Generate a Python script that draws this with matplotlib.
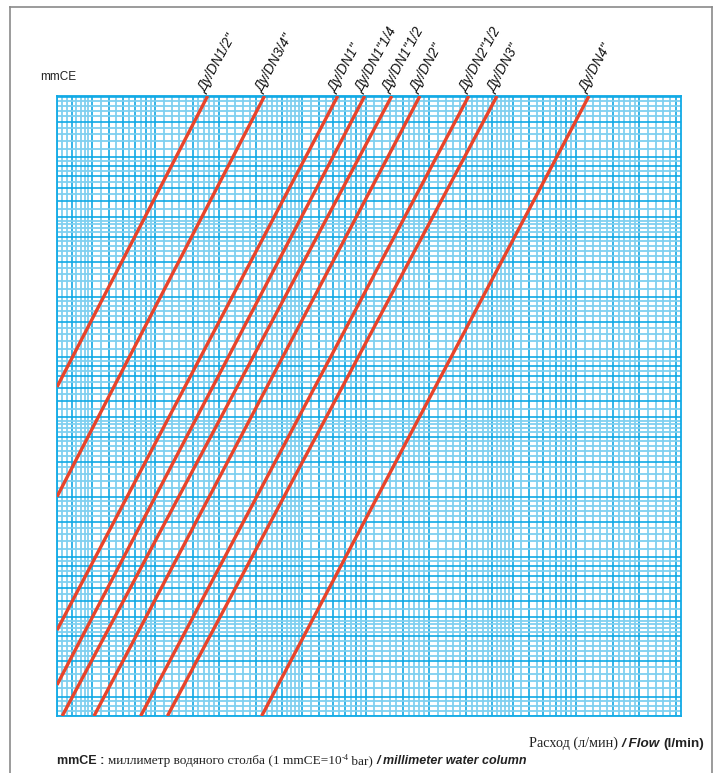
import numpy as np
import matplotlib
matplotlib.use('Agg')
import matplotlib.pyplot as plt
from matplotlib import font_manager
from matplotlib.ticker import LogLocator, NullFormatter
from matplotlib.lines import Line2D

# ----------------------------------------------------------------
# Data (log-log chart)
# ----------------------------------------------------------------
labels = ['Ду/DN1/2"', 'Ду/DN3/4"', 'Ду/DN1"', 'Ду/DN1"1/4', 'Ду/DN1"1/2',
          'Ду/DN2"', 'Ду/DN2"1/2', 'Ду/DN3"', 'Ду/DN4"']

# upper end of each line: flow (l/min) at the top edge of the grid
q_top = [17.7, 33.0, 73.6, 98.9, 133.0, 181.0, 309.0, 421.0, 1153.0]
p_top = [2020, 2020, 2020, 2020, 2020, 2020, 2020, 2020, 2020]

# lower end of each line (left edge or bottom edge of the grid)
q_low = [3.4, 3.4, 3.4, 3.4, 3.6, 5.1, 8.5, 11.4, 32.0]
p_low = [70.8, 20.0, 4.3, 2.29, 1.6, 1.6, 1.6, 1.6, 1.6]

x_range = (3.4, 3160)   # flow, l/min
y_range = (1.6, 2020)   # mmCE

# ----------------------------------------------------------------
# Styles
# ----------------------------------------------------------------
cyan_dark = '#10a9e5'
cyan_light = '#7fd0f0'
red = '#e8442b'

dark_subs = [1.0, 1.5, 2.0, 3.0, 4.0, 5.0, 6.0, 7.0, 8.0, 9.0]
light_subs = ([1.1, 1.2, 1.3, 1.4, 1.6, 1.7, 1.8, 1.9] +
              [2.2, 2.4, 2.6, 2.8, 3.2, 3.4, 3.6, 3.8, 4.2, 4.4, 4.6, 4.8] +
              [5.5, 6.5, 7.5, 8.5, 9.5])

names = {f.name for f in font_manager.fontManager.ttflist}
if 'Liberation Sans Narrow' in names:
    label_font, label_size = 'Liberation Sans Narrow', 11
else:
    label_font, label_size = 'Liberation Sans', 9.8

W, H = 718, 773
fig = plt.figure(figsize=(W / 100, H / 100), dpi=100)
ax = fig.add_axes([57 / W, (H - 716) / H, 624 / W, 620 / H])

ax.set_xscale('log')
ax.set_yscale('log')
ax.set_xlim(*x_range)
ax.set_ylim(*y_range)

for axis in (ax.xaxis, ax.yaxis):
    axis.set_major_locator(LogLocator(base=10, subs=dark_subs, numticks=200))
    axis.set_minor_locator(LogLocator(base=10, subs=light_subs, numticks=200))
    axis.set_major_formatter(NullFormatter())
    axis.set_minor_formatter(NullFormatter())
ax.tick_params(which='both', length=0)
ax.grid(True, which='minor', color=cyan_light, lw=1.3, zorder=0)
ax.grid(True, which='major', color=cyan_dark, lw=1.2, zorder=1)
ax.set_axisbelow(True)
for s in ax.spines.values():
    s.set_color(cyan_dark)
    s.set_linewidth(1.3)

# red pressure-drop lines
for i in range(len(labels)):
    ax.plot([q_low[i], q_top[i]], [p_low[i], p_top[i]], color=red, lw=2.4,
            solid_capstyle='butt', zorder=5)
    ax.annotate(labels[i], xy=(q_top[i], p_top[i]), xytext=(-1.5, 2),
                textcoords='offset points', rotation=61, rotation_mode='anchor',
                ha='left', va='baseline', fontsize=label_size, style='italic',
                family=label_font, color='#111111', annotation_clip=False)

fig.text(40 / W, (H - 80) / H, 'mmCE', fontsize=8.5, family='Liberation Sans',
         color='#222222', ha='left', va='baseline')


# ----------------------------------------------------------------
# Mixed-font caption lines
# ----------------------------------------------------------------
def rich_text(x_px, y_px, pieces, align='left'):
    r = fig.canvas.get_renderer()
    arts = []
    total = 0
    for txt, kw, dy in pieces:
        t = fig.text(0, 0, txt, va='baseline', ha='left', color='#222222', **kw)
        w = t.get_window_extent(r).width
        arts.append((t, w, dy))
        total += w
    x = x_px - total if align == 'right' else x_px
    for t, w, dy in arts:
        t.set_position((x / W, (H - y_px + dy) / H))
        x += w


serif = dict(family='Liberation Serif', fontsize=9.5)
sans_bi = dict(family='Liberation Sans', fontsize=9, style='italic', weight='bold')
sans_b = dict(family='Liberation Sans', fontsize=9, weight='bold')

rich_text(704, 747, [
    ('Расход (л/мин) ', dict(family='Liberation Serif', fontsize=10.2), 0),
    ('/ Flow ', dict(sans_bi, fontsize=9.7), 0),
    ('(l/min)', dict(sans_b, fontsize=9.7), 0),
], align='right')

rich_text(57, 764, [
    ('mmCE : ', sans_b, 0),
    ('миллиметр водяного столба (1 mmCE=10', serif, 0),
    ('-4', dict(family='Liberation Serif', fontsize=6), 4),
    (' bar) ', serif, 0),
    ('/ millimeter water column', sans_bi, 0),
])

# outer frame (open at the bottom)
frame = dict(color='#8a8a8a', lw=1.2)
fig.add_artist(Line2D([10 / W, 10 / W], [0, (H - 7) / H], **frame))
fig.add_artist(Line2D([10 / W, 712 / W], [(H - 7) / H, (H - 7) / H], **frame))
fig.add_artist(Line2D([712 / W, 712 / W], [0, (H - 7) / H], **frame))

fig.savefig('out.png', dpi=100)
